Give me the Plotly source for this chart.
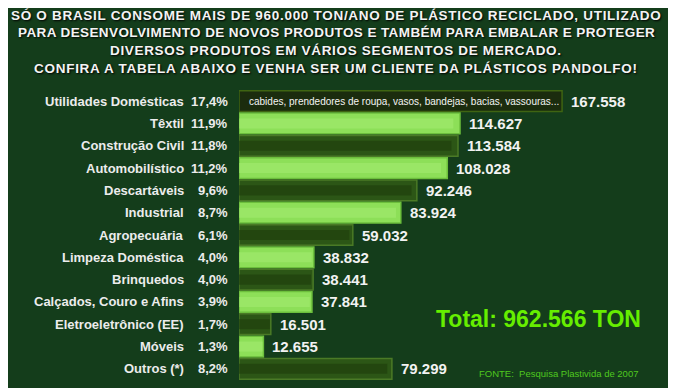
import plotly.graph_objects as go

categories = ["Utilidades Domésticas", "Têxtil", "Construção Civil", "Automobilístico",
              "Descartáveis", "Industrial", "Agropecuária", "Limpeza Doméstica",
              "Brinquedos", "Calçados, Couro e Afins", "Eletroeletrônico (EE)", "Móveis", "Outros (*)"]
percents = ["17,4%", "11,9%", "11,8%", "11,2%", "9,6%", "8,7%", "6,1%", "4,0%",
            "4,0%", "3,9%", "1,7%", "1,3%", "8,2%"]
values = [167558, 114627, 113584, 108028, 92246, 83924, 59032, 38832,
          38441, 37841, 16501, 12655, 79299]
value_labels = ["167.558", "114.627", "113.584", "108.028", "92.246", "83.924", "59.032",
                "38.832", "38.441", "37.841", "16.501", "12.655", "79.299"]
inner_note = "cabides, prendedores de roupa, vasos, bandejas, bacias, vassouras..."
title_lines = [
    "SÓ O BRASIL CONSOME MAIS DE 960.000 TON/ANO DE PLÁSTICO RECICLADO, UTILIZADO",
    "PARA DESENVOLVIMENTO DE NOVOS PRODUTOS E TAMBÉM PARA EMBALAR E PROTEGER",
    "DIVERSOS PRODUTOS EM VÁRIOS SEGMENTOS DE MERCADO.",
    "CONFIRA A TABELA ABAIXO E VENHA SER UM CLIENTE DA PLÁSTICOS PANDOLFO!",
]
total_text = "Total: 962.566 TON"
source_text = "FONTE:  Pesquisa Plastivida de 2007"

BG = "#143d1b"
LIGHT = "#8ddf58"
LIGHT_EDGE = "#6cbf3c"
DARK = "#2c5616"
DARK_EDGE = "#4a7a26"
SPECIAL = "#1b2c0e"
SPECIAL_EDGE = "#3f6412"

# page-pixel geometry (compensating an 8px page offset)
OFF = 8
W, H = 676, 388
PL, PT, PR, PB = 239, 90, 676, 380  # plot area in page pixels
plot_w, plot_h = PR - PL, PB - PT
XMAX = 226650


def px(xpage):
    return (xpage - PL) / plot_w


def py(ypage):
    return (PB - ypage) / plot_h


fills, edges, sheen = [], [], []
for i in range(len(values)):
    if i == 0:
        fills.append(SPECIAL); edges.append(SPECIAL_EDGE); sheen.append("rgba(0,0,0,0)")
    elif i % 2 == 1:
        fills.append(LIGHT); edges.append(LIGHT_EDGE); sheen.append("rgba(170,240,120,0.45)")
    else:
        fills.append(DARK); edges.append(DARK_EDGE); sheen.append("rgba(30,60,12,0.6)")

fig = go.Figure()
fig.add_trace(go.Bar(
    y=categories, x=values, orientation="h",
    marker=dict(color=fills, line=dict(color=edges, width=1.5)),
    width=0.93, hoverinfo="skip",
))
fig.add_trace(go.Bar(
    y=categories, x=[v * 0.97 for v in values], orientation="h",
    marker=dict(color=sheen, line=dict(width=0)),
    width=0.45, hoverinfo="skip",
))

FAM = "Liberation Sans, Arial, sans-serif"
LABEL_FONT = dict(family=FAM, size=13, color="#ececec", weight="bold")
annotations = []
for cat, pct, v, vl in zip(categories, percents, values, value_labels):
    annotations.append(dict(x=px(186), xref="paper", y=cat, yref="y", text=cat,
                            xanchor="right", yanchor="middle", showarrow=False, font=LABEL_FONT))
    annotations.append(dict(x=px(230), xref="paper", y=cat, yref="y", text=pct,
                            xanchor="right", yanchor="middle", showarrow=False, font=LABEL_FONT))
    annotations.append(dict(x=v, xref="x", y=cat, yref="y", text=vl, xshift=7,
                            xanchor="left", yanchor="middle", showarrow=False,
                            font=dict(family=FAM, size=15, color="#f2f2f2", weight="bold")))
annotations.append(dict(x=0, xref="x", y=categories[0], yref="y", text=inner_note, xshift=8,
                        xanchor="left", yanchor="middle", showarrow=False,
                        font=dict(family=FAM, size=10, color="#f4f4f4")))

title_y = [15.5, 33, 50.5, 68]
title_spacing = [0.7, 0.4, 0.67, 0.72]
for line, yp, sp in zip(title_lines, title_y, title_spacing):
    annotations.append(dict(x=px(336), xref="paper", y=py(yp), yref="paper",
                            text=f'<span style="letter-spacing:{sp}px">' + line + "</span>",
                            showarrow=False, xanchor="center", yanchor="middle",
                            font=dict(family=FAM, size=13.5, color="#f4f4f4", weight="bold",
                                      shadow="1px 1px 2px #000000")))

annotations.append(dict(x=px(538), xref="paper", y=py(319), yref="paper",
                        text=total_text, showarrow=False, xanchor="center", yanchor="middle",
                        font=dict(family=FAM, size=23, color="#66ee00", weight="bold")))
annotations.append(dict(x=px(640), xref="paper", y=py(373), yref="paper",
                        text=source_text, showarrow=False, xanchor="right", yanchor="middle",
                        font=dict(family=FAM, size=9.5, color="#4fc81e")))

fig.update_layout(
    width=W, height=H,
    margin=dict(l=PL - OFF, r=W + OFF - PR, t=PT - OFF, b=H + OFF - PB),
    paper_bgcolor=BG, plot_bgcolor=BG,
    barmode="overlay", bargap=0.05, showlegend=False,
    annotations=annotations,
    xaxis=dict(range=[0, XMAX], visible=False, fixedrange=True),
    yaxis=dict(categoryorder="array", categoryarray=categories, autorange="reversed",
               visible=False, fixedrange=True),
)

fig.write_html("out.html")
